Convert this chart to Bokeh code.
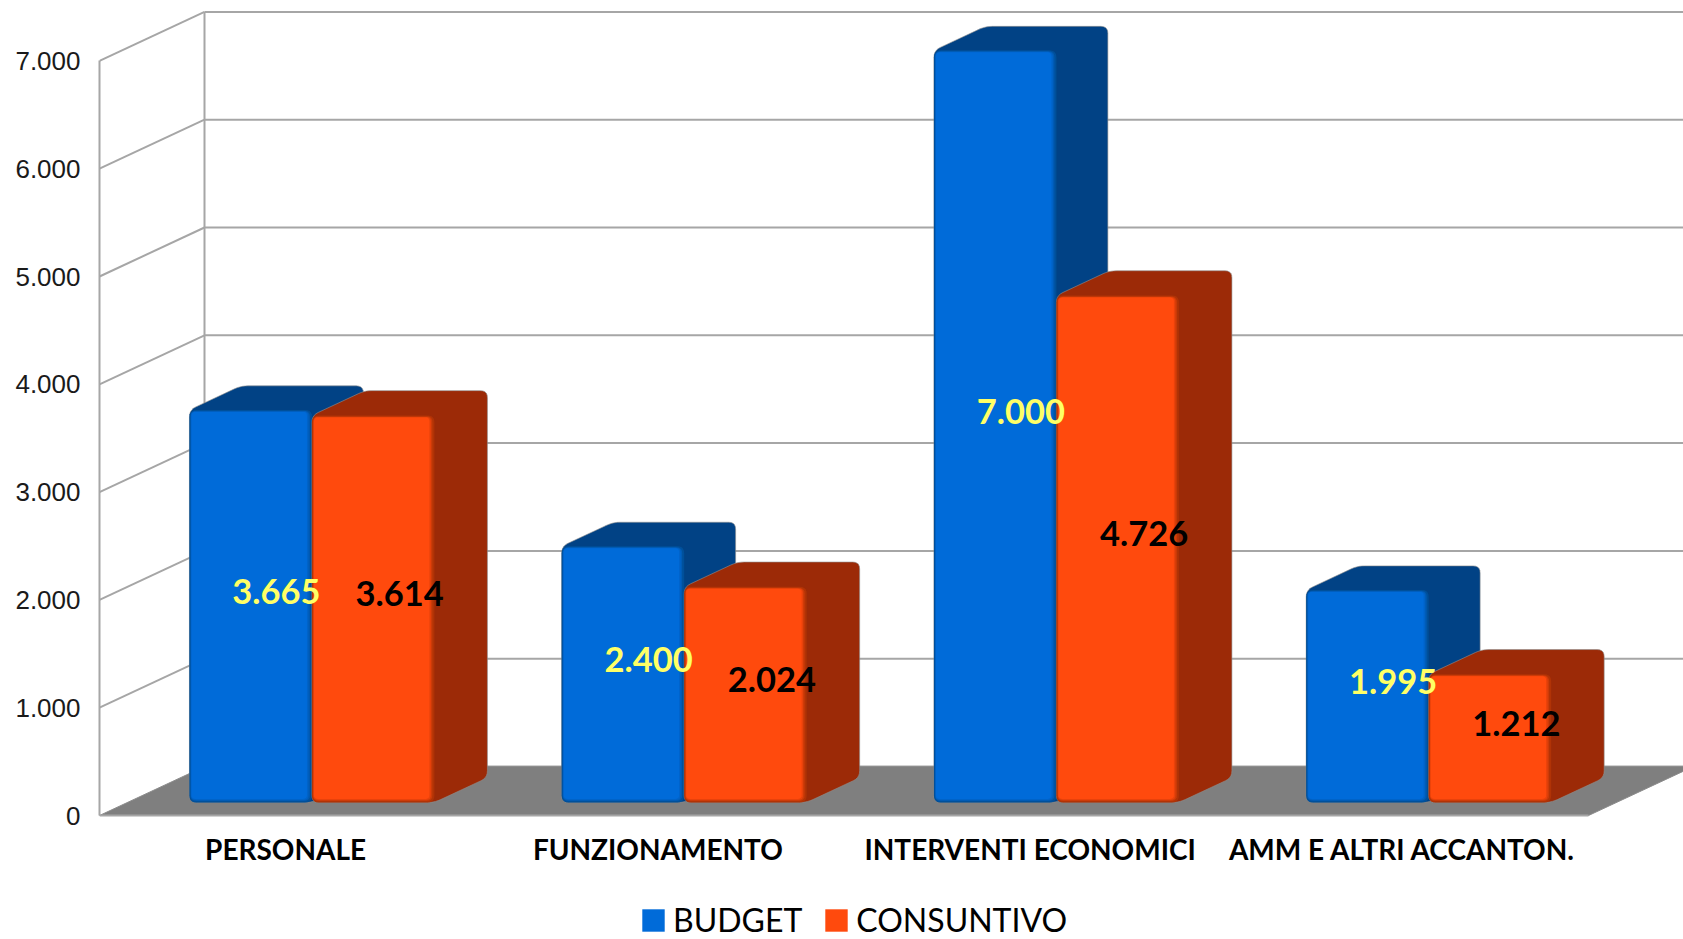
from bokeh.plotting import figure
from bokeh.embed import file_html
from bokeh.resources import INLINE
from bokeh.core.properties import value
from bokeh.models import Range1d, FixedTicker, Legend, LegendItem
import math

categories = ["PERSONALE", "FUNZIONAMENTO", "INTERVENTI ECONOMICI", "AMM E ALTRI ACCANTON."]
budget = [3665, 2400, 7000, 1995]
consuntivo = [3614, 2024, 4726, 1212]
y_ticks = [0, 1000, 2000, 3000, 4000, 5000, 6000, 7000]
series_names = ["BUDGET", "CONSUNTIVO"]

W, H = 1683, 939
LEFT = 99
BOTTOM = 124
PX_X = 372.25      # pixels per category
PX_Y = 0.1078      # pixels per value unit
DX = 105 / PX_X    # floor depth, category units
DY = 49 / PX_Y     # floor depth, value units
BW = 0.329         # bar width
C_OFF = 0.51       # junction of the two bars in a category
D0 = 0.215
D1S = (0.705, 0.72)
V0 = 23            # bevel inset at the bar foot


def fmt(v):
    return f"{v:,}".replace(",", ".")


def proj(c, v, d):
    return c + d * DX, v + d * DY


def rounded(pts, r):
    """Round polygon corners; r in pixels, points in data units."""
    px = [(x * PX_X, y * PX_Y) for x, y in pts]
    n = len(px)
    xs, ys = [], []
    for i in range(n):
        ax, ay = px[i - 1]
        bx, by = px[i]
        cx, cy = px[(i + 1) % n]
        la = math.hypot(ax - bx, ay - by)
        lc = math.hypot(cx - bx, cy - by)
        ra = min(r, la / 2) / la
        rc = min(r, lc / 2) / lc
        for k in range(6):
            t = k / 5
            p0 = (bx + (ax - bx) * ra, by + (ay - by) * ra)
            p2 = (bx + (cx - bx) * rc, by + (cy - by) * rc)
            qx = (1 - t) ** 2 * p0[0] + 2 * t * (1 - t) * bx + t ** 2 * p2[0]
            qy = (1 - t) ** 2 * p0[1] + 2 * t * (1 - t) * by + t ** 2 * p2[1]
            xs.append(qx / PX_X)
            ys.append(qy / PX_Y)
    return xs, ys


def rect(c0, c1, v0, v1, inset=(0, 0, 0, 0), r=5):
    l, ri, t, b = inset
    c0 += l / PX_X
    c1 -= ri / PX_X
    v1 -= t / PX_Y
    v0 += b / PX_Y
    pts = [proj(c0, v0, D0), proj(c1, v0, D0), proj(c1, v1, D0), proj(c0, v1, D0)]
    return rounded(pts, r)


def silhouette(c0, c1, v0, v1, d1):
    pts = [proj(c0, v0, D0), proj(c1, v0, D0), proj(c1, v0, d1),
           proj(c1, v1, d1), proj(c0, v1, d1), proj(c0, v1, D0)]
    return rounded(pts, 7)


x_end = (W - LEFT) / PX_X
y_end = (H - BOTTOM) / PX_Y
y_start = -BOTTOM / PX_Y

p = figure(width=W, height=H, output_backend="svg", toolbar_location=None,
           x_range=Range1d(0, x_end), y_range=Range1d(y_start, y_end),
           min_border_left=LEFT, min_border_bottom=0, min_border_top=0, min_border_right=0)
p.outline_line_color = None
p.grid.visible = False

GRID = "#a6a6a6"
# back wall
wall_y = [v + DY for v in y_ticks]
p.multi_line([[DX, x_end] for _ in y_ticks], [[w, w] for w in wall_y], line_color=GRID, line_width=2)
p.multi_line([[0, DX] for _ in y_ticks[1:]], [[v, v + DY] for v in y_ticks[1:]], line_color=GRID, line_width=2)
p.line([DX, DX], [DY, y_ticks[-1] + DY], line_color=GRID, line_width=2)
# floor
p.patch([0, 4, 4 + DX, DX], [0, 0, DY, DY], fill_color="#7f7f7f", line_color="#8c8c8c", line_width=1)

styles = [
    ("#014285", ["#00509a", "#005bb5", "#0063c8"], "#006bd9", "#ffff66"),
    ("#9c2a07", ["#b03306", "#cc3b08", "#e8420b"], "#ff4a0d", "#000000"),
]
LAYERS = [((0, 0, 0, 0), 7), ((1, 2, 1, 1.5), 6), ((1.5, 3.5, 1.5, 2.5), 5)]
legend_items = []
for s, vals in enumerate([budget, consuntivo]):
    side, edges, main, tc = styles[s]
    cols = [(i + C_OFF - BW, i + C_OFF) if s == 0 else (i + C_OFF, i + C_OFF + BW) for i in range(len(vals))]
    sil = [silhouette(c0, c1, V0, v, D1S[s]) for (c0, c1), v in zip(cols, vals)]
    p.patches([a[0] for a in sil], [a[1] for a in sil], fill_color=side, line_color="#8f8f8f", line_alpha=0.6, line_width=1)
    for col, (ins, r) in zip(edges, LAYERS):
        fr = [rect(c0, c1, V0, v, ins, r) for (c0, c1), v in zip(cols, vals)]
        p.patches([a[0] for a in fr], [a[1] for a in fr], fill_color=col, line_color=None)
    fr = [rect(c0, c1, V0, v, (2, 5, 2, 3.5), 4) for (c0, c1), v in zip(cols, vals)]
    main_r = p.patches([a[0] for a in fr], [a[1] for a in fr], fill_color=main, line_color=None)
    legend_items.append(LegendItem(label=series_names[s], renderers=[main_r]))

for s, vals in enumerate([budget, consuntivo]):
    tc = styles[s][3]
    lx, ly, lt = [], [], []
    for i, v in enumerate(vals):
        c = i + C_OFF + (-BW / 2 if s == 0 else BW / 2)
        x, y = proj(c, v / 2, (D0 + D1S[s]) / 2)
        lx.append(x)
        ly.append(y)
        lt.append(fmt(v))
    p.text(lx, ly, text=lt, text_font=value("Lato"), text_font_style="bold", text_font_size="34.5px",
           text_color=tc, text_align="center", text_baseline="middle", y_offset=-4)

# axes
ya = p.yaxis[0]
ya.ticker = FixedTicker(ticks=y_ticks)
ya.major_label_overrides = {v: fmt(v) for v in y_ticks}
ya.major_label_text_font = "Liberation Sans"
ya.major_label_text_font_size = "26px"
ya.major_label_text_color = "#1a1a1a"
ya.major_label_standoff = 13
ya.major_tick_line_color = None
ya.minor_tick_line_color = None
ya.axis_line_color = GRID
ya.axis_line_width = 2
ya.bounds = (0, y_ticks[-1])

xa = p.xaxis[0]
centers = [i + 0.5 for i in range(len(categories))]
xa.ticker = FixedTicker(ticks=centers)
xa.major_label_overrides = dict(zip(centers, categories))
xa.major_label_text_font = "Lato"
xa.major_label_text_font_style = "bold"
xa.major_label_text_font_size = "28px"
xa.major_label_text_color = "#000000"
xa.major_label_standoff = 10
xa.major_tick_line_color = None
xa.minor_tick_line_color = None
xa.axis_line_color = GRID
xa.axis_line_width = 2
xa.bounds = (0, 4)
xa.fixed_location = 0

leg = Legend(items=legend_items, orientation="horizontal", location=(540, 0),
             glyph_width=28, glyph_height=28, label_standoff=6, spacing=20,
             padding=0, margin=0, background_fill_alpha=0, border_line_color=None,
             label_text_font="Lato", label_text_font_size="32px", label_text_color="#000000",
             label_height=28)
p.add_layout(leg, "center")

open("out.html", "w").write(file_html(p, INLINE))
